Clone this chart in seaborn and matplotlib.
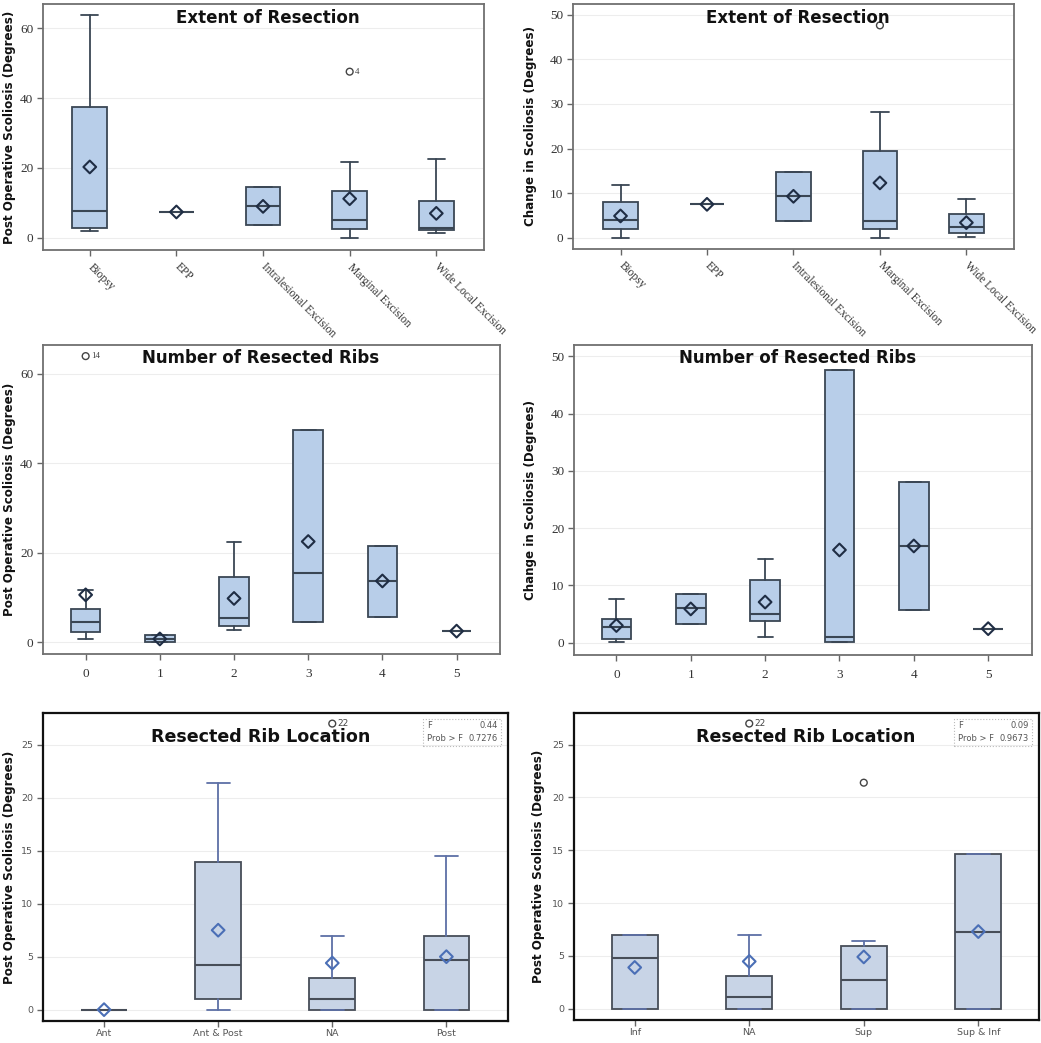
import matplotlib
matplotlib.use("Agg")
import matplotlib.pyplot as plt
from matplotlib.patches import Rectangle
import seaborn as sns

sns.set_theme(style="white")

# ---- categories ----
extent_cats = ["Biopsy", "EPP", "Intralesional Excision", "Marginal Excision", "Wide Local Excision"]
ribs_cats = ["0", "1", "2", "3", "4", "5"]
loc_cats_a = ["Ant", "Ant & Post", "NA", "Post"]
loc_cats_b = ["Inf", "NA", "Sup", "Sup & Inf"]

# ---- post-op scoliosis by extent of resection ----
postext_lo = [1.9, 7.4, 3.6, 0.0, 1.5]
postext_q1 = [2.8, 7.4, 3.6, 2.5, 2.2]
postext_med = [7.75, 7.4, 9.1, 5.2, 2.9]
postext_q3 = [37.6, 7.4, 14.5, 13.5, 10.5]
postext_hi = [63.9, 7.4, 14.5, 21.6, 22.6]
postext_mean = [20.3, 7.4, 9.0, 11.2, 7.0]
postext_out_x = [3]
postext_out_y = [47.6]
postext_out_lbl = ["4"]

# ---- change in scoliosis by extent of resection ----
chgext_lo = [0.0, 7.5, 3.8, 0.0, 0.2]
chgext_q1 = [1.9, 7.5, 3.8, 2.0, 1.0]
chgext_med = [4.1, 7.5, 9.3, 3.7, 2.4]
chgext_q3 = [8.0, 7.5, 14.7, 19.5, 5.3]
chgext_hi = [11.8, 7.5, 14.7, 28.2, 8.7]
chgext_mean = [4.9, 7.5, 9.3, 12.3, 3.4]
chgext_out_x = [3]
chgext_out_y = [47.6]
chgext_out_lbl = [""]

# ---- post-op scoliosis by number of resected ribs ----
postrib_lo = [0.7, 0.0, 2.8, 4.5, 5.7, 2.5]
postrib_q1 = [2.2, 0.0, 3.7, 4.5, 5.7, 2.5]
postrib_med = [4.6, 0.75, 5.4, 15.5, 13.8, 2.5]
postrib_q3 = [7.5, 1.6, 14.6, 47.5, 21.6, 2.5]
postrib_hi = [11.7, 1.6, 22.5, 47.5, 21.6, 2.5]
postrib_mean = [10.6, 0.75, 9.8, 22.5, 13.7, 2.5]
postrib_out_x = [0]
postrib_out_y = [63.9]
postrib_out_lbl = ["14"]

# ---- change in scoliosis by number of resected ribs ----
chgrib_lo = [0.2, 3.2, 1.05, 0.1, 5.7, 2.45]
chgrib_q1 = [0.7, 3.2, 3.8, 0.1, 5.7, 2.45]
chgrib_med = [2.8, 6.0, 5.0, 1.0, 16.9, 2.45]
chgrib_q3 = [4.2, 8.5, 10.9, 47.6, 28.1, 2.45]
chgrib_hi = [7.6, 8.5, 14.7, 47.6, 28.1, 2.45]
chgrib_mean = [3.0, 5.9, 7.1, 16.2, 16.9, 2.45]

# ---- post-op scoliosis by resected rib location (ant/post) ----
loca_lo = [0.0, 0.0, 0.0, 0.0]
loca_q1 = [0.0, 1.04, 0.0, 0.0]
loca_med = [0.0, 4.2, 1.0, 4.7]
loca_q3 = [0.0, 13.9, 3.03, 6.94]
loca_hi = [0.0, 21.4, 6.94, 14.5]
loca_mean = [0.0, 7.5, 4.4, 5.0]
loca_out_x = [2]
loca_out_y = [27.0]
loca_out_lbl = ["22"]
loca_f = "0.44"
loca_p = "0.7276"

# ---- post-op scoliosis by resected rib location (sup/inf) ----
locb_lo = [0.0, 0.0, 0.0, 0.0]
locb_q1 = [0.0, 0.0, 0.0, 0.0]
locb_med = [4.75, 1.07, 2.7, 7.3]
locb_q3 = [6.99, 3.1, 5.98, 14.6]
locb_hi = [6.99, 7.0, 6.45, 14.6]
locb_mean = [3.9, 4.47, 4.9, 7.3]
locb_out_x = [1, 2]
locb_out_y = [27.0, 21.4]
locb_out_lbl = ["22", ""]
locb_f = "0.09"
locb_p = "0.9673"

SERIF = "Liberation Serif"

top_style = dict(fill="#b8cee9", edge="#3a4654", whisk="#3a4654", mean="#1f2d44",
                 spine="#707070", spine_w=1.3, tickfont=SERIF, tickcolor="#333333",
                 ticksize=9.5, outfont=SERIF, title_size=12)
bot_style = dict(fill="#c8d4e6", edge="#474d58", whisk="#5d70a6", mean="#4b6fb6",
                 spine="#111111", spine_w=1.6, tickfont="DejaVu Sans", tickcolor="#555555",
                 ticksize=6.8, outfont="DejaVu Sans", title_size=12.6)


def draw_panel(ax, cats, lo, q1, med, q3, hi, mean, st, ylim, yticks, xlim,
               title, title_xy, ylabel, ylabel_x, out_x=(), out_y=(), out_lbl=()):
    stats = [dict(whislo=a, q1=b, med=c, q3=d, whishi=e, fliers=[])
             for a, b, c, d, e in zip(lo, q1, med, q3, hi)]
    pos = list(range(len(cats)))
    ax.bxp(stats, positions=pos, widths=0.4, patch_artist=True, showfliers=False,
           boxprops=dict(facecolor=st["fill"], edgecolor=st["edge"], linewidth=1.3),
           whiskerprops=dict(color=st["whisk"], linewidth=1.3),
           capprops=dict(color=st["whisk"], linewidth=1.3),
           medianprops=dict(color=st["edge"], linewidth=1.5))
    sns.scatterplot(x=pos, y=mean, ax=ax, marker="D", s=42, facecolor="none",
                    edgecolor=st["mean"], linewidth=1.5, zorder=5)
    if len(out_x):
        sns.scatterplot(x=list(out_x), y=list(out_y), ax=ax, marker="o", s=24,
                        facecolor="none", edgecolor="#444444", linewidth=1.0, zorder=5)
        for xx, yy, lb in zip(out_x, out_y, out_lbl):
            if lb:
                ax.annotate(lb, (xx, yy), xytext=(4, 0), textcoords="offset points",
                            va="center", ha="left", fontsize=6.5, color="#444444",
                            family=st["outfont"])
    ax.set_xlim(*xlim)
    ax.set_ylim(*ylim)
    ax.set_yticks(yticks)
    ax.set_yticklabels([str(v) for v in yticks], family=st["tickfont"],
                       fontsize=st["ticksize"], color=st["tickcolor"])
    ax.set_xticks(pos)
    ax.yaxis.grid(True, color="#ededed", linewidth=0.8)
    ax.set_axisbelow(True)
    ax.tick_params(axis="both", bottom=True, left=True, direction="out", length=4,
                   width=1, color="#666666", pad=3)
    for sp in ax.spines.values():
        sp.set_color(st["spine"])
        sp.set_linewidth(st["spine_w"])
    ax.text(title_xy[0], title_xy[1], title, transform=ax.transAxes, ha="center",
            va="center", fontsize=st["title_size"], fontweight="bold", color="#111111", zorder=6)
    ax.set_ylabel(ylabel, fontsize=8.6, fontweight="bold", color="#111111")
    ax.yaxis.set_label_coords(ylabel_x, 0.5)
    ax.set_xlabel("")


fig = plt.figure(figsize=(10.41, 10.43), dpi=100)

ax1 = fig.add_axes([0.0413, 0.7603, 0.4236, 0.2359])
ax2 = fig.add_axes([0.5504, 0.7613, 0.4236, 0.2349])
ax3 = fig.add_axes([0.0413, 0.3730, 0.4390, 0.2963])
ax4 = fig.add_axes([0.5514, 0.3720, 0.4400, 0.2972])
ax5 = fig.add_axes([0.0413, 0.0211, 0.4467, 0.2953])
ax6 = fig.add_axes([0.5514, 0.0221, 0.4467, 0.2943])

draw_panel(ax1, extent_cats, postext_lo, postext_q1, postext_med, postext_q3, postext_hi,
           postext_mean, top_style, (-3.5, 67), [0, 20, 40, 60], (-0.54, 4.55),
           "Extent of Resection", (0.51, 0.943), "Post Operative Scoliosis (Degrees)", -0.061,
           postext_out_x, postext_out_y, postext_out_lbl)
draw_panel(ax2, extent_cats, chgext_lo, chgext_q1, chgext_med, chgext_q3, chgext_hi,
           chgext_mean, top_style, (-2.5, 52.4), [0, 10, 20, 30, 40, 50], (-0.55, 4.55),
           "Extent of Resection", (0.51, 0.943), "Change in Scoliosis (Degrees)", -0.082,
           chgext_out_x, chgext_out_y, chgext_out_lbl)
for ax in (ax1, ax2):
    ax.set_xticklabels(extent_cats, rotation=-45, ha="left", va="center",
                       rotation_mode="anchor", family=SERIF, fontsize=8.3, color="#333333")
    ax.tick_params(axis="x", pad=7)

draw_panel(ax3, ribs_cats, postrib_lo, postrib_q1, postrib_med, postrib_q3, postrib_hi,
           postrib_mean, top_style, (-2.6, 66.4), [0, 20, 40, 60], (-0.575, 5.585),
           "Number of Resected Ribs", (0.477, 0.958), "Post Operative Scoliosis (Degrees)", -0.059,
           postrib_out_x, postrib_out_y, postrib_out_lbl)
draw_panel(ax4, ribs_cats, chgrib_lo, chgrib_q1, chgrib_med, chgrib_q3, chgrib_hi,
           chgrib_mean, top_style, (-2.15, 52.0), [0, 10, 20, 30, 40, 50], (-0.57, 5.59),
           "Number of Resected Ribs", (0.489, 0.958), "Change in Scoliosis (Degrees)", -0.081)
for ax in (ax3, ax4):
    ax.set_xticklabels(ribs_cats, family=SERIF, fontsize=9.5, color="#333333")
    ax.tick_params(axis="x", pad=6)

draw_panel(ax5, loc_cats_a, loca_lo, loca_q1, loca_med, loca_q3, loca_hi, loca_mean,
           bot_style, (-1.07, 28.0), [0, 5, 10, 15, 20, 25], (-0.535, 3.54),
           "Resected Rib Location", (0.469, 0.922), "Post Operative Scoliosis (Degrees)", -0.058,
           loca_out_x, loca_out_y, loca_out_lbl)
draw_panel(ax6, loc_cats_b, locb_lo, locb_q1, locb_med, locb_q3, locb_hi, locb_mean,
           bot_style, (-1.07, 28.0), [0, 5, 10, 15, 20, 25], (-0.53, 3.53),
           "Resected Rib Location", (0.499, 0.922), "Post Operative Scoliosis (Degrees)", -0.062,
           locb_out_x, locb_out_y, locb_out_lbl)
for ax, cats, fv, pv in ((ax5, loc_cats_a, loca_f, loca_p), (ax6, loc_cats_b, locb_f, locb_p)):
    ax.set_xticklabels(cats, family="DejaVu Sans", fontsize=6.8, color="#555555")
    ax.tick_params(axis="x", pad=2)
    ax.add_patch(Rectangle((0.817, 0.893), 0.168, 0.088, transform=ax.transAxes,
                           fill=False, edgecolor="#bbbbbb", linestyle=":", linewidth=0.8))
    for yy, left, right in ((0.958, "F", fv), (0.916, "Prob > F", pv)):
        ax.text(0.825, yy, left, transform=ax.transAxes, fontsize=6, color="#555555",
                ha="left", va="center")
        ax.text(0.978, yy, right, transform=ax.transAxes, fontsize=6, color="#555555",
                ha="right", va="center")

fig.savefig("out.png", dpi=100)
